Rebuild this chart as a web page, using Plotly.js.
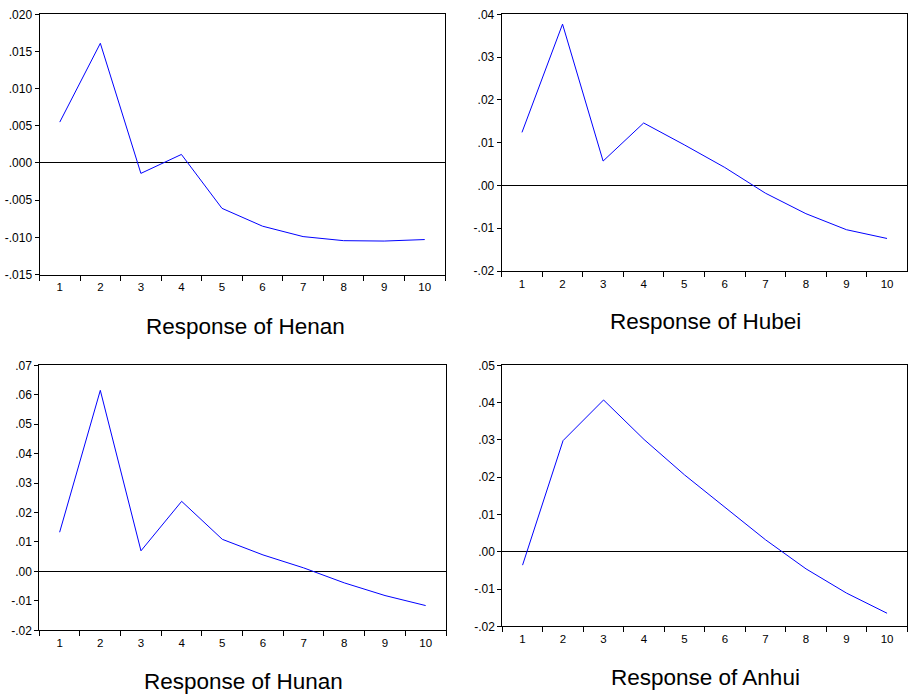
<!DOCTYPE html>
<html>
<head>
<meta charset="utf-8">
<script src="https://cdn.plot.ly/plotly-3.0.1.min.js"></script>
<style>
html,body{margin:0;padding:0;background:#fff;}
#chart{width:908px;height:694px;}
</style>
</head>
<body>
<div id="chart"></div>
<script>
// ---- data ----
const periods = ['1','2','3','4','5','6','7','8','9','10'];

const henan = [0.0055, 0.0161, -0.0014, 0.00115, -0.0061, -0.0085, -0.0099, -0.01045, -0.0105, -0.0103];
const hubei = [0.0124, 0.0377, 0.0057, 0.0146, 0.0095, 0.0042, -0.0018, -0.0066, -0.01035, -0.0124];
const hunan = [0.0133, 0.0615, 0.0070, 0.0238, 0.0109, 0.0056, 0.0012, -0.0039, -0.0082, -0.0116];
const anhui = [-0.0036, 0.0298, 0.0407, 0.0301, 0.0206, 0.0119, 0.0032, -0.0046, -0.0111, -0.0165];

const titles = ['Response of Henan', 'Response of Hubei', 'Response of Hunan', 'Response of Anhui'];

const henanTicks = [-0.015, -0.010, -0.005, 0.000, 0.005, 0.010, 0.015, 0.020];
const henanLabels = ['-.015', '-.010', '-.005', '.000', '.005', '.010', '.015', '.020'];
const hubeiTicks = [-0.02, -0.01, 0.00, 0.01, 0.02, 0.03, 0.04];
const hubeiLabels = ['-.02', '-.01', '.00', '.01', '.02', '.03', '.04'];
const hunanTicks = [-0.02, -0.01, 0.00, 0.01, 0.02, 0.03, 0.04, 0.05, 0.06, 0.07];
const hunanLabels = ['-.02', '-.01', '.00', '.01', '.02', '.03', '.04', '.05', '.06', '.07'];
const anhuiTicks = [-0.02, -0.01, 0.00, 0.01, 0.02, 0.03, 0.04, 0.05];
const anhuiLabels = ['-.02', '-.01', '.00', '.01', '.02', '.03', '.04', '.05'];

// ---- layout helpers ----
const W = 908, H = 694;
const px = (a, b) => [a / W, b / W];
const py = (top, bottom) => [1 - bottom / H, 1 - top / H];

const series = [henan, hubei, hunan, anhui];
const ticks = [henanTicks, hubeiTicks, hunanTicks, anhuiTicks];
const labels = [henanLabels, hubeiLabels, hunanLabels, anhuiLabels];
const yRanges = [[-0.015, 0.020], [-0.02, 0.04], [-0.02, 0.07], [-0.02, 0.05]];
const xDomains = [px(39.5, 445), px(501.7, 907.3), px(39.3, 446), px(502.3, 907.3)];
const yDomains = [py(14.3, 274.5), py(14.3, 271), py(365.3, 630.3), py(365.3, 626.3)];
const titlePos = [[245, 326], [705, 321], [243, 681], [705, 677]];

const yTickFont = {family: 'Liberation Sans, Arial, sans-serif', size: 12, color: '#000'};
const xTickFont = {family: 'Liberation Sans, Arial, sans-serif', size: 11.5, color: '#000'};

const traces = [];
const layout = {
  width: W, height: H,
  margin: {l: 0, r: 0, t: 0, b: 0},
  paper_bgcolor: '#fff', plot_bgcolor: '#fff',
  showlegend: false,
  annotations: []
};

series.forEach((s, i) => {
  const n = i + 1;
  const xa = n === 1 ? 'x' : 'x' + n;
  const ya = n === 1 ? 'y' : 'y' + n;
  traces.push({
    type: 'scatter', mode: 'lines',
    x: periods, y: s,
    xaxis: xa, yaxis: ya,
    line: {color: '#0000FF', width: 1},
    hoverinfo: 'x+y'
  });
  layout['xaxis' + (n === 1 ? '' : n)] = {
    domain: xDomains[i],
    anchor: ya,
    type: 'category',
    range: [-0.5, 9.5],
    tickson: 'boundaries',
    ticks: 'outside', ticklen: 5, tickwidth: 1, tickcolor: '#000',
    ticklabelstandoff: 2,
    showline: true, linecolor: '#000', linewidth: 1, mirror: true,
    showgrid: false, zeroline: false,
    tickfont: xTickFont,
    fixedrange: true
  };
  layout['yaxis' + (n === 1 ? '' : n)] = {
    domain: yDomains[i],
    anchor: xa,
    range: yRanges[i],
    tickmode: 'array', tickvals: ticks[i], ticktext: labels[i],
    ticks: 'outside', ticklen: 4, tickwidth: 1, tickcolor: '#000',
    showline: true, linecolor: '#000', linewidth: 1, mirror: true,
    showgrid: false,
    zeroline: true, zerolinecolor: '#000', zerolinewidth: 1,
    tickfont: yTickFont,
    fixedrange: true
  };
  layout.annotations.push({
    text: titles[i],
    xref: 'paper', yref: 'paper',
    x: titlePos[i][0] / W, y: 1 - titlePos[i][1] / H,
    xanchor: 'center', yanchor: 'middle',
    showarrow: false,
    font: {family: 'Liberation Sans, Arial, sans-serif', size: 22.5, color: '#000'}
  });
});

Plotly.newPlot('chart', traces, layout, {displayModeBar: false});
</script>
</body>
</html>
